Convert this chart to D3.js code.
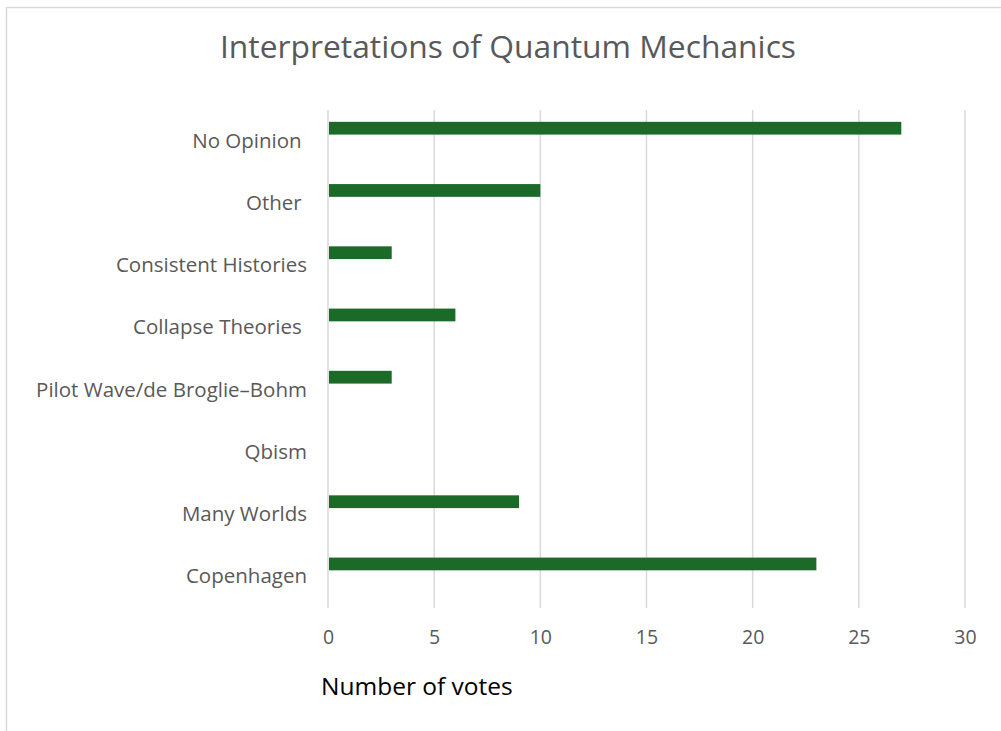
<!DOCTYPE html>
<html><head><meta charset="utf-8">
<script src="https://cdn.jsdelivr.net/npm/d3@7"></script>
<style>
html,body{margin:0;padding:0;background:#fff;}
svg{display:block;}
text{font-family:"Open Sans","Noto Sans",sans-serif;}
</style></head>
<body>
<svg id="chart" width="1001" height="731"></svg>
<script>
const categories = ["No Opinion ", "Other ", "Consistent Histories", "Collapse Theories ", "Pilot Wave/de Broglie–Bohm", "Qbism", "Many Worlds", "Copenhagen"];
const votes = [27, 10, 3, 6, 3, 0, 9, 23];
const xTicks = [0, 5, 10, 15, 20, 25, 30];
const title = "Interpretations of Quantum Mechanics";
const xTitle = "Number of votes";

const svg = d3.select("#chart");
// chart frame
svg.append("path").attr("d", "M6.5,731 V7.5 H1001").attr("fill", "none").attr("stroke", "#d9d9d9").attr("stroke-width", 1.5);

const x = d3.scaleLinear().domain([0, 30]).range([328, 965]);
const y = d3.scaleBand().domain(categories).range([110, 608]).paddingInner(0).paddingOuter(0);

// gridlines
svg.append("g").selectAll("line").data(xTicks).join("line")
  .attr("x1", d => x(d)).attr("x2", d => x(d))
  .attr("y1", 110).attr("y2", 608)
  .attr("stroke", "#d9d9d9").attr("stroke-width", 1.5);

// bars
const bw = y.bandwidth();
svg.append("g").selectAll("rect").data(categories).join("rect")
  .attr("x", x(0) + 1)
  .attr("y", (d) => y(d) + bw * 0.19)
  .attr("width", (d, i) => Math.max(0, x(votes[i]) - x(0) - 1))
  .attr("height", bw * 0.205)
  .attr("fill", "#1b6a27");

// x axis
const xAxis = d3.axisBottom(x).tickValues(xTicks).tickSize(0).tickPadding(0);
const gx = svg.append("g").attr("transform", "translate(0,637)").call(xAxis);
gx.select(".domain").remove();
gx.selectAll("text").attr("dy", "0.35em").attr("fill", "#595959").style("font-size", "19.5px");

// y axis
const yAxis = d3.axisLeft(y).tickSize(0).tickPadding(0);
const gy = svg.append("g").attr("transform", "translate(307,0)").call(yAxis);
gy.select(".domain").remove();
gy.selectAll("text").attr("fill", "#595959").style("font-size", "20.5px").style("white-space", "pre").attr("xml:space", "preserve");

// title
svg.append("text").attr("x", 508).attr("y", 58).attr("text-anchor", "middle")
  .attr("fill", "#595959").style("font-size", "31.8px").text(title);
svg.append("text").attr("x", 321).attr("y", 695)
  .attr("fill", "#000").style("font-size", "24.5px").text(xTitle);
</script>
</body></html>
